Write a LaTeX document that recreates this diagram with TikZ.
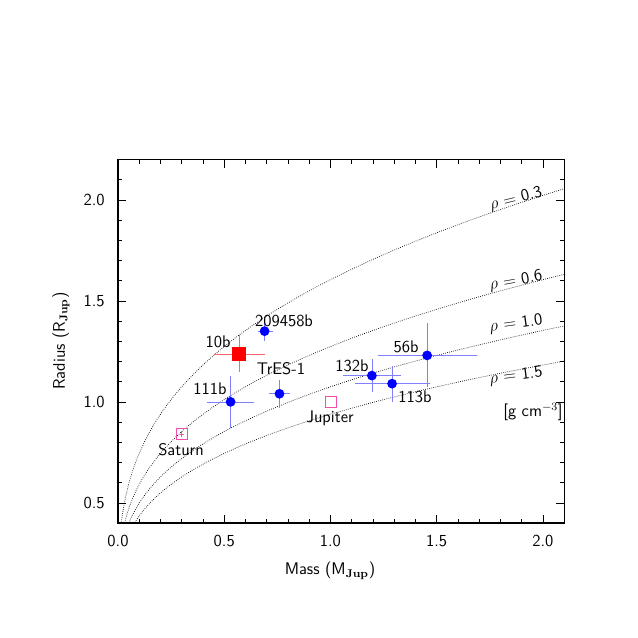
\documentclass[tikz,border=0pt]{standalone}
\begin{document}
\begin{tikzpicture}[x=0.02508cm,y=-0.02508cm,font=\sffamily\large,
  pt/.style={circle,fill=blue,inner sep=0pt,minimum size=7pt},
  eb/.style={draw=blue!50,line width=0.5pt},
  curve/.style={densely dotted,line width=0.5pt},
  lab/.style={inner sep=1pt}]
\useasboundingbox (0,0) rectangle (638,638);
\begin{scope}[shift={(118,603.8)},x=5.3295cm,y=5.066cm]
  \begin{scope}
    \clip (0,0.4) rectangle (2.1,2.2);
    \foreach \r in {0.3,0.6,1.0,1.5}
      \draw[curve] plot[domain=0.3:2.2,samples=150,smooth] ({\r*\x*\x*\x/1.24},\x);
  \end{scope}
  \draw[line width=0.8pt] (0,0.4) rectangle (2.1,2.2);
  \foreach \m in {0.1,0.2,...,2.05} {
    \draw (\m,0.4) -- ++(0,0.02); \draw (\m,2.2) -- ++(0,-0.02);}
  \foreach \m/\t in {0/0.0,0.5/0.5,1.0/1.0,1.5/1.5,2.0/2.0} {
    \draw (\m,0.4) -- ++(0,0.04); \draw (\m,2.2) -- ++(0,-0.04);
    \node[below=5pt] (xl\m) at (\m,0.4) {\t};}
  \foreach \r in {0.5,0.6,...,2.15} {
    \draw (0,\r) -- ++(0.02,0); \draw (2.1,\r) -- ++(-0.02,0);}
  \foreach \r/\t in {0.5/0.5,1.0/1.0,1.5/1.5,2.0/2.0} {
    \draw (0,\r) -- ++(0.04,0); \draw (2.1,\r) -- ++(-0.04,0);
    \node[left=6pt] (yl\r) at (0,\r) {\t};}
  % error bars
  \draw[eb] (0.66,1.35) -- (0.73,1.35) (0.69,1.30) -- (0.69,1.40);
  \draw[draw=red!60] (0.45,1.237) -- (0.69,1.237) (0.57,1.15) -- (0.57,1.33);
  \draw[eb] (0.42,1.0) -- (0.64,1.0) (0.53,0.87) -- (0.53,1.13);
  \draw[eb] (0.71,1.04) -- (0.81,1.04) (0.76,0.97) -- (0.76,1.11);
  \draw[eb] (1.06,1.13) -- (1.33,1.13) (1.195,1.05) -- (1.195,1.21);
  \draw[eb] (1.115,1.09) -- (1.47,1.09) (1.29,1.0) -- (1.29,1.18);
  \draw[eb] (1.225,1.23) -- (1.69,1.23) (1.455,1.075) -- (1.455,1.39);
  \node[pt] (p209) at (0.69,1.35) {};
  \node[pt] (p111) at (0.53,1.0) {};
  \node[pt] (p76) at (0.76,1.04) {};
  \node[pt] (p132) at (1.195,1.13) {};
  \node[pt] (p113) at (1.29,1.09) {};
  \node[pt] (p56) at (1.455,1.23) {};
  \node[fill=red,inner sep=0pt,minimum size=10pt] (tres) at (0.57,1.237) {};
  \node[draw=magenta!70,inner sep=0pt,minimum size=8pt] (jup) at (1.0,1.0) {};
  \node[draw=magenta!70,inner sep=0pt,minimum size=8pt] (sat) at (0.30,0.84) {};
  \draw[magenta!70] (0.30,0.825) -- (0.30,0.855) (0.29,0.84) -- (0.31,0.84);
\end{scope}
\node[lab] (l209) at (284,321) {209458b};
\node[lab] (l10) at (218,342) {10b};
\node[lab] (ltres) at (281,369) {TrES-1};
\node[lab] (l111) at (210,389) {111b};
\node[lab] (l56) at (406,347) {56b};
\node[lab] (l132) at (352,366) {132b};
\node[lab] (l113) at (415,397) {113b};
\node[lab] (ljup) at (330,418) {Jupiter};
\node[lab] (lsat) at (181,450) {Saturn};
\node[lab,rotate=14] (r1) at (516,199) {$\rho$ = 0.3};
\node[lab,rotate=10] (r2) at (516,281) {$\rho$ = 0.6};
\node[lab,rotate=8] (r3) at (516,324) {$\rho$ = 1.0};
\node[lab,rotate=7] (r4) at (516,376) {$\rho$ = 1.5};
\node[lab] (unit) at (533,412) {[g cm$^{-3}$]};
\node (xt) at (330,571) {Mass (M$_{\mathbf{Jup}}$)};
\node[rotate=90] (yt) at (61,341) {Radius (R$_{\mathbf{Jup}}$)};
\end{tikzpicture}
\end{document}
